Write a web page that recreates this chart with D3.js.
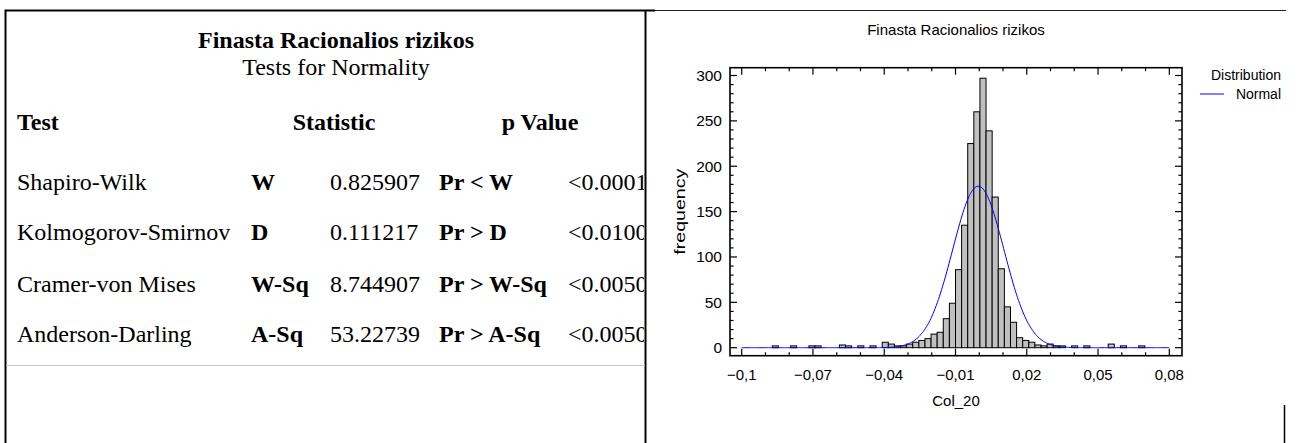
<!DOCTYPE html>
<html>
<head>
<meta charset="utf-8">
<script src="https://cdn.jsdelivr.net/npm/d3@7"></script>
<style>
  html, body { margin: 0; padding: 0; background: #fff; }
  svg { display: block; }
  .sans { font-family: "Liberation Sans", Arial, sans-serif; }
  .serif { font-family: "Liberation Serif", "Times New Roman", serif; }
</style>
</head>
<body>
<svg id="chart" width="1298" height="443"></svg>
<script>
// ---- data ----
const chartTitle = "Finasta Racionalios rizikos";
const tableSubtitle = "Tests for Normality";
const tableHeaders = ["Test", "Statistic", "p Value"];
const testNames = ["Shapiro-Wilk", "Kolmogorov-Smirnov", "Cramer-von Mises", "Anderson-Darling"];
const statSymbols = ["W", "D", "W-Sq", "A-Sq"];
const statValues = ["0.825907", "0.111217", "8.744907", "53.22739"];
const probLabels = ["Pr < W", "Pr > D", "Pr > W-Sq", "Pr > A-Sq"];
const pValues = ["<0.0001", "<0.0100", "<0.0050", "<0.0050"];

// histogram classes: 70 equal classes from -0.1 to 0.08
const classLower = -0.1;
const classUpper = 0.08;
const frequencies = [
  0, 0, 0, 0, 0, 2, 0, 0, 2, 0,
  0, 2, 2, 0, 0, 0, 3, 2, 0, 2,
  0, 2, 0, 6, 4, 2, 2, 4, 6, 8,
  10, 15, 17, 32, 49, 86, 135, 225, 260, 297,
  239, 166, 87, 45, 28, 11, 8, 6, 3, 2,
  4, 2, 2, 0, 2, 0, 2, 0, 0, 0,
  4, 0, 2, 0, 0, 2, 0, 0, 0, 0
];
// fitted normal distribution
const normalMean = -0.0004;
const normalSd = 0.0108;
const sampleSize = 1874;

const xTickValues = [-0.1, -0.07, -0.04, -0.01, 0.02, 0.05, 0.08];
const yTickValues = [0, 50, 100, 150, 200, 250, 300];
const xAxisTitle = "Col_20";
const yAxisTitle = "frequency";
const legendTitle = "Distribution";
const legendItems = ["Normal"];

// ---- layout ----
const svg = d3.select("#chart");
const frame = { left: 730, right: 1182, top: 67.7, bottom: 355.7 };

// panel borders
const borders = svg.append("g");
borders.append("line").attr("x1", 648).attr("x2", 1286).attr("y1", 10.5).attr("y2", 10.5)
  .attr("stroke", "#222").attr("stroke-width", 1);
borders.append("line").attr("x1", 1284.5).attr("x2", 1284.5).attr("y1", 405).attr("y2", 443)
  .attr("stroke", "#000").attr("stroke-width", 1.5);
borders.append("path")
  .attr("d", "M5.5,443 V10.5 H655 M645.5,10.5 V443")
  .attr("fill", "none").attr("stroke", "#000").attr("stroke-width", 2);

// ---- table ----
const table = svg.append("g").attr("class", "serif").attr("fill", "#000");
const tfs = 24;
const titleX = 336;
table.append("text").attr("x", titleX).attr("y", 48).attr("text-anchor", "middle")
  .attr("font-size", tfs).attr("font-weight", "bold").text(chartTitle);
table.append("text").attr("x", titleX).attr("y", 75).attr("text-anchor", "middle")
  .attr("font-size", tfs).text(tableSubtitle);

const headerX = [17, 334, 540];
const headerAnchor = ["start", "middle", "middle"];
tableHeaders.forEach((h, i) => {
  table.append("text").attr("x", headerX[i]).attr("y", 130)
    .attr("text-anchor", headerAnchor[i]).attr("font-size", tfs).attr("font-weight", "bold").text(h);
});

const clip = svg.append("defs").append("clipPath").attr("id", "tableClip");
clip.append("rect").attr("x", 6).attr("y", 11).attr("width", 638).attr("height", 430);

const rowY = [190, 240, 292, 342];
const rows = table.append("g").attr("clip-path", "url(#tableClip)");
testNames.forEach((name, i) => {
  const y = rowY[i];
  rows.append("text").attr("x", 17).attr("y", y).attr("font-size", tfs).text(name);
  rows.append("text").attr("x", 251).attr("y", y).attr("font-size", tfs).attr("font-weight", "bold").text(statSymbols[i]);
  rows.append("text").attr("x", 330).attr("y", y).attr("font-size", tfs).text(statValues[i]);
  rows.append("text").attr("x", 439).attr("y", y).attr("font-size", tfs).attr("font-weight", "bold").text(probLabels[i]);
  rows.append("text").attr("x", 568).attr("y", y).attr("font-size", tfs).text(pValues[i]);
});
table.append("line").attr("x1", 6).attr("x2", 645).attr("y1", 365.5).attr("y2", 365.5)
  .attr("stroke", "#c8c8c8").attr("stroke-width", 1);

// ---- histogram ----
const x = d3.scaleLinear().domain([classLower, classUpper]).range([741.7, 1169.3]);
const y = d3.scaleLinear().domain([0, 300]).range([347.7, 75.5]);
const classWidth = (classUpper - classLower) / frequencies.length;

const plot = svg.append("g").attr("class", "sans");

const bins = frequencies.map((f, i) => ({ x0: classLower + i * classWidth, x1: classLower + (i + 1) * classWidth, f }));
plot.append("g").selectAll("rect")
  .data(bins.filter(d => d.f > 0))
  .join("rect")
  .attr("x", d => x(d.x0))
  .attr("width", d => x(d.x1) - x(d.x0))
  .attr("y", d => y(d.f))
  .attr("height", d => y(0) - y(d.f))
  .attr("fill", "#c0c0c0")
  .attr("stroke", "#000")
  .attr("stroke-width", 1);

// fitted normal density scaled to class frequencies
const density = v => sampleSize * classWidth / (normalSd * Math.sqrt(2 * Math.PI)) *
  Math.exp(-0.5 * Math.pow((v - normalMean) / normalSd, 2));
const curveX = d3.range(0, 401).map(i => classLower + i * (classUpper - classLower) / 400);
plot.append("path")
  .datum(curveX)
  .attr("d", d3.line().x(v => x(v)).y(v => y(density(v))))
  .attr("fill", "none")
  .attr("stroke", "#0000ff")
  .attr("stroke-width", 1);

// frame
plot.append("rect")
  .attr("x", frame.left).attr("y", frame.top)
  .attr("width", frame.right - frame.left).attr("height", frame.bottom - frame.top)
  .attr("fill", "none").attr("stroke", "#000").attr("stroke-width", 1.6);

// inward ticks on all four sides
const majorLen = 7, minorLen = 3.5;
const xMinor = d3.range(0, 19).map(i => classLower + i * 0.01);
const yMinor = d3.range(0, 31).map(i => i * 10);
const isMajorX = v => xTickValues.some(t => Math.abs(t - v) < 1e-9);
const isMajorY = v => v % 50 === 0;
const ticks = plot.append("g").attr("stroke", "#000").attr("stroke-width", 1.2);
xMinor.forEach(v => {
  const len = isMajorX(v) ? majorLen : minorLen;
  ticks.append("line").attr("x1", x(v)).attr("x2", x(v)).attr("y1", frame.bottom).attr("y2", frame.bottom - len);
  ticks.append("line").attr("x1", x(v)).attr("x2", x(v)).attr("y1", frame.top).attr("y2", frame.top + len);
});
yMinor.forEach(v => {
  const len = isMajorY(v) ? majorLen : minorLen;
  ticks.append("line").attr("x1", frame.left).attr("x2", frame.left + len).attr("y1", y(v)).attr("y2", y(v));
  ticks.append("line").attr("x1", frame.right).attr("x2", frame.right - len).attr("y1", y(v)).attr("y2", y(v));
});

// tick labels
const fmtX = v => d3.format(".2~f")(v).replace(".", ",").replace("-0,10", "-0,1");
plot.append("g").selectAll("text").data(xTickValues).join("text")
  .attr("x", d => x(d)).attr("y", 380)
  .attr("text-anchor", "middle").attr("font-size", 15).attr("fill", "#000")
  .text(d => fmtX(d));
plot.append("g").selectAll("text").data(yTickValues).join("text")
  .attr("x", 722).attr("y", d => y(d)).attr("dy", "0.35em")
  .attr("text-anchor", "end").attr("font-size", 15.5).attr("fill", "#000")
  .text(d => d);

// titles
plot.append("text").attr("x", (frame.left + frame.right) / 2).attr("y", 35)
  .attr("text-anchor", "middle").attr("font-size", 15).text(chartTitle);
plot.append("text").attr("x", (frame.left + frame.right) / 2).attr("y", 406)
  .attr("text-anchor", "middle").attr("font-size", 15).text(xAxisTitle);
plot.append("text").attr("transform", `translate(685,${(frame.top + frame.bottom) / 2}) rotate(-90)`)
  .attr("text-anchor", "middle").attr("font-size", 15)
  .attr("textLength", 86).attr("lengthAdjust", "spacingAndGlyphs").text(yAxisTitle);

// legend
const legend = plot.append("g");
legend.append("text").attr("x", 1281).attr("y", 80).attr("text-anchor", "end").attr("font-size", 14).text(legendTitle);
legendItems.forEach((item, i) => {
  legend.append("line").attr("x1", 1200).attr("x2", 1224).attr("y1", 94 + i * 18).attr("y2", 94 + i * 18)
    .attr("stroke", "#0000ff").attr("stroke-width", 1);
  legend.append("text").attr("x", 1281).attr("y", 99 + i * 18).attr("text-anchor", "end").attr("font-size", 14).text(item);
});
</script>
</body>
</html>
